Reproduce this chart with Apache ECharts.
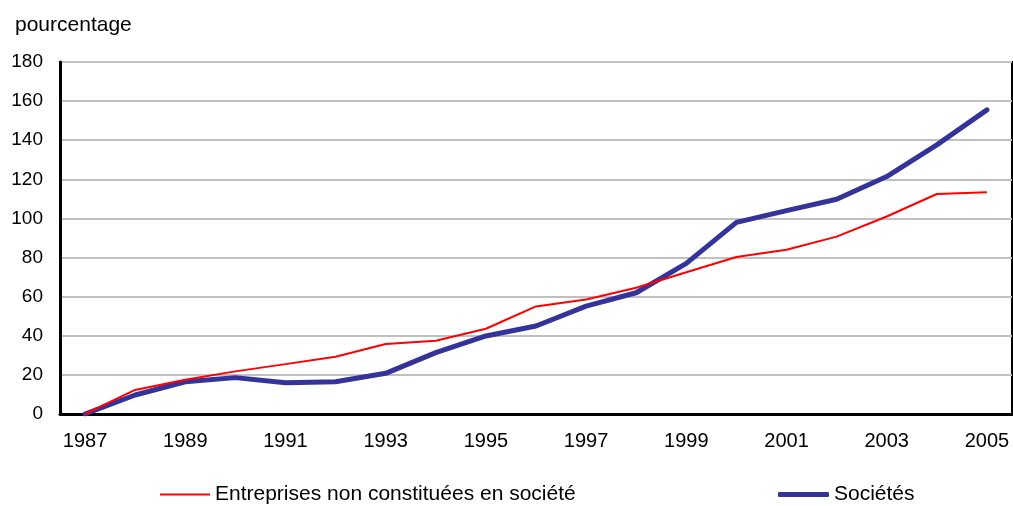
<!DOCTYPE html>
<html>
<head>
<meta charset="utf-8">
<script src="https://cdn.jsdelivr.net/npm/echarts@6/dist/echarts.min.js"></script>
<style>
  html, body { margin: 0; padding: 0; background: #fff; }
  #chart { width: 1013px; height: 506px; }
</style>
</head>
<body>
<div id="chart"></div>
<script>
// Years on the horizontal axis
const years = ['1987','1988','1989','1990','1991','1992','1993','1994','1995','1996',
               '1997','1998','1999','2000','2001','2002','2003','2004','2005'];
// Cumulative growth, in percent, since 1987
const entreprisesNonConstituees = [0, 12.3, 17.5, 21.8, 25.5, 29.3, 35.8, 37.5, 43.6, 55.0,
                                   58.6, 64.6, 72.5, 80.3, 84.0, 90.7, 101.0, 112.5, 113.4];
const societes = [0, 9.7, 16.5, 18.6, 16.0, 16.5, 20.8, 31.4, 39.9, 45.0,
                  55.2, 62.0, 77.0, 98.0, 104.0, 109.8, 121.4, 137.6, 155.5];
const yTicks = { min: 0, max: 180, interval: 20 };

const nameRed = 'Entreprises non constituées en société';
const nameBlue = 'Sociétés';
const font = 'Liberation Sans, Arial, sans-serif';
const legendText = { fontFamily: font, fontSize: 21, color: '#000' };

const chart = echarts.init(document.getElementById('chart'));
chart.setOption({
  animation: false,
  backgroundColor: '#ffffff',
  title: {
    text: 'pourcentage', left: 10, top: 10,
    textStyle: { fontFamily: font, fontSize: 21, fontWeight: 'normal', color: '#000' }
  },
  legend: [
    {
      data: [{ name: nameRed, icon: 'rect' }], left: 160, top: 484,
      itemWidth: 50, itemHeight: 2, itemGap: 4, padding: 0,
      textStyle: legendText
    },
    {
      data: [{ name: nameBlue, icon: 'roundRect' }], left: 778, top: 484,
      itemWidth: 51, itemHeight: 5, itemGap: 4, padding: 0,
      textStyle: legendText
    }
  ],
  grid: {
    left: 60, right: 1, top: 62, bottom: 92,
    show: true, borderColor: '#000', borderWidth: 2, backgroundColor: 'transparent'
  },
  xAxis: {
    type: 'category', data: years, boundaryGap: true,
    axisLine: { lineStyle: { color: '#000', width: 3 } },
    axisTick: { inside: true, length: 6, interval: 0, lineStyle: { color: '#000', width: 2 } },
    axisLabel: { interval: 1, margin: 17, fontFamily: font, fontSize: 20, color: '#000' },
    splitLine: { show: false }
  },
  yAxis: {
    type: 'value', min: yTicks.min, max: yTicks.max, interval: yTicks.interval,
    axisLine: { show: true, lineStyle: { color: '#000', width: 3 } },
    axisTick: { show: false },
    axisLabel: { margin: 17, fontFamily: font, fontSize: 19, color: '#000' },
    splitLine: { lineStyle: { color: '#c0c0c0', width: 2 } }
  },
  series: [
    {
      name: nameRed, type: 'line', data: entreprisesNonConstituees,
      symbol: 'none', color: '#ff0000', z: 3,
      lineStyle: { color: '#ff0000', width: 2 }
    },
    {
      name: nameBlue, type: 'line', data: societes,
      symbol: 'none', color: '#333399', z: 2,
      lineStyle: { color: '#333399', width: 5, cap: 'round', join: 'round' }
    }
  ]
});
</script>
</body>
</html>
